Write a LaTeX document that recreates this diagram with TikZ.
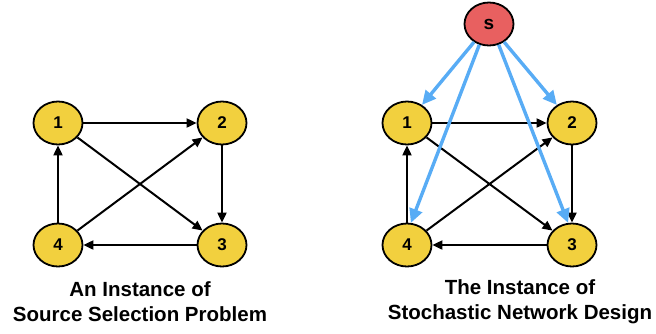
\documentclass[tikz,border=0pt]{standalone}
\usepackage{fontspec}
\setmainfont{Liberation Sans}
\usetikzlibrary{shapes.geometric,arrows.meta}
\definecolor{nodeyellow}{RGB}{242,208,62}
\definecolor{nodered}{RGB}{232,96,96}
\definecolor{linkblue}{RGB}{88,172,245}
\tikzset{
  vert/.style={ellipse,draw=black,line width=1.8pt,fill=nodeyellow,
    minimum width=49pt,minimum height=43pt,inner sep=0pt,
    font=\fontsize{17}{17}\selectfont\bfseries},
  src/.style={vert,fill=nodered,font=\fontsize{19}{19}\selectfont\bfseries},
  arc/.style={line width=2pt,-{Triangle[length=10pt,width=9pt]}},
  feed/.style={line width=3.4pt,draw=linkblue,-{Triangle[length=14pt,width=13pt]}},
  caption/.style={align=center,font=\fontsize{20.5}{25}\selectfont\bfseries}
}
\begin{document}
\begin{tikzpicture}[x=1pt,y=-1pt]
\useasboundingbox (0,0) rectangle (656,333);
% source selection instance
\node[vert] (a1) at (58,123) {1};
\node[vert] (a2) at (222,123) {2};
\node[vert] (a3) at (222,245) {3};
\node[vert] (a4) at (58,245) {4};
\draw[arc] (a1) -- (a2);
\draw[arc] (a2) -- (a3);
\draw[arc] (a3) -- (a4);
\draw[arc] (a4) -- (a1);
\draw[arc] (a1) -- (a3);
\draw[arc] (a4) -- (a2);
\node[caption] (capa) at (140,302) {An Instance of\\Source Selection Problem};
% stochastic network design instance
\node[vert] (b1) at (407,123) {1};
\node[vert] (b2) at (572,123) {2};
\node[vert] (b3) at (572,245) {3};
\node[vert] (b4) at (407,245) {4};
\node[src] (s) at (489,24) {s};
\draw[arc] (b1) -- (b2);
\draw[arc] (b2) -- (b3);
\draw[arc] (b3) -- (b4);
\draw[arc] (b4) -- (b1);
\draw[arc] (b1) -- (b3);
\draw[arc] (b4) -- (b2);
\draw[feed] (s) -- (b1);
\draw[feed] (s) -- (b2);
\draw[feed] (s.-115) -- (b4.80);
\draw[feed] (s.-65) -- (b3.100);
\node[caption] (capb) at (520,302) {The Instance of\\Stochastic Network Design};
\end{tikzpicture}
\end{document}
